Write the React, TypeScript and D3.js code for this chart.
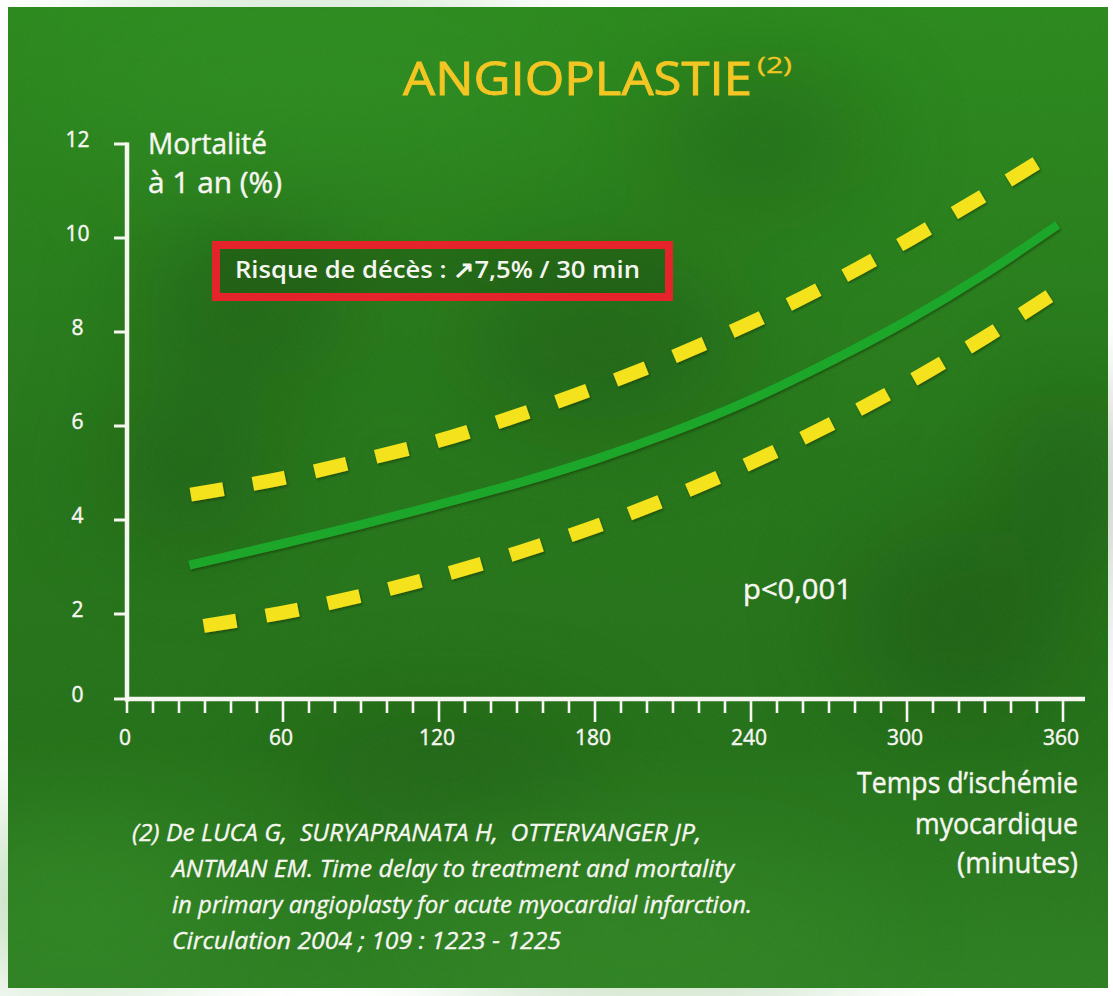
import React from "react";
import * as d3 from "d3";

// ---- data ----
const midMinutes = [24, 60, 90, 120, 150, 180, 210, 240, 270, 300, 330, 358];
const midValues = [3.04, 3.5, 3.9, 4.33, 4.78, 5.29, 5.88, 6.56, 7.36, 8.24, 9.24, 10.28];

const upperMinutes = [24.5, 60, 90, 120, 150, 180, 210, 240, 270, 300, 330, 350];
const upperValues = [4.54, 4.89, 5.27, 5.69, 6.22, 6.81, 7.47, 8.2, 9.02, 9.94, 10.92, 11.6];

const lowerMinutes = [29.5, 60, 90, 120, 150, 180, 210, 240, 270, 300, 330, 355.5];
const lowerValues = [1.72, 2.03, 2.39, 2.81, 3.3, 3.86, 4.5, 5.22, 6.02, 6.91, 7.89, 8.79];

const yTicks = [0, 2, 4, 6, 8, 10, 12];
const xMajorTicks = [0, 60, 120, 180, 240, 300, 360];
const xMinorTicks = d3.range(10, 360, 10).filter((v) => v % 60 !== 0);

const titleText = "ANGIOPLASTIE";
const titleRef = "(2)";
const yTitle = ["Mortalité", "à 1 an (%)"];
const boxText = "Risque de décès : ↗7,5% / 30 min";
const pText = "p<0,001";
const xTitle = ["Temps d’ischémie", "myocardique", "(minutes)"];
const citation = [
  "(2) De LUCA G,  SURYAPRANATA H,  OTTERVANGER JP,",
  "ANTMAN EM. Time delay to treatment and mortality",
  "in primary angioplasty for acute myocardial infarction.",
  "Circulation 2004 ; 109 : 1223 - 1225",
];

const W = 1113;
const H = 996;
const FONT = "'Open Sans', 'Noto Sans', sans-serif";

export default function App() {
  const x = d3.scaleLinear().domain([0, 360]).range([127, 1063]);
  const y = d3.scaleLinear().domain([0, 2, 12]).range([699, 614, 144]);

  const line = d3
    .line<[number, number]>()
    .x((d) => x(d[0]))
    .y((d) => y(d[1]))
    .curve(d3.curveNatural);

  const midPath = line(midMinutes.map((m, i) => [m, midValues[i]]) as [number, number][]) || "";
  const upPath = line(upperMinutes.map((m, i) => [m, upperValues[i]]) as [number, number][]) || "";
  const lowPath = line(lowerMinutes.map((m, i) => [m, lowerValues[i]]) as [number, number][]) || "";

  const white = "#f6f6f0";
  const gold = "#f3c624";
  const axisY = y(0);
  const axisX = x(0);
  const txt = { fill: white, stroke: white, strokeWidth: 0.45 } as const;

  return (
    <svg
      width={W}
      height={H}
      style={{ position: "absolute", left: 0, top: 0, display: "block" }}
    >
      <defs>
        <linearGradient id="bg" x1="0" y1="0" x2="0" y2="1">
          <stop offset="0" stopColor="#2d8a1f" />
          <stop offset="0.45" stopColor="#28771c" />
          <stop offset="0.75" stopColor="#26721b" />
          <stop offset="1" stopColor="#2f8024" />
        </linearGradient>
        <filter id="blur" x="-50%" y="-50%" width="200%" height="200%">
          <feGaussianBlur stdDeviation="55" />
        </filter>
        <filter id="noise" x="0" y="0" width="100%" height="100%">
          <feTurbulence type="fractalNoise" baseFrequency="0.9" numOctaves="2" seed="3" />
          <feColorMatrix
            type="matrix"
            values="0 0 0 0 1  0 0 0 0 1  0 0 0 0 1  0 0 0 0.9 -0.45"
          />
        </filter>
        <filter id="shadow" x="-20%" y="-20%" width="140%" height="140%">
          <feDropShadow dx="1" dy="1.5" stdDeviation="1.2" floodColor="#0b2a06" floodOpacity="0.55" />
        </filter>
      </defs>

      <rect x={0} y={0} width={W} height={H} fill="#ffffff" />
      <g>
        <rect x={8} y={7} width={1100} height={981} fill="url(#bg)" />
        <g filter="url(#blur)" opacity={0.35}>
          <ellipse cx={250} cy={300} rx={110} ry={80} fill="#163f0c" />
          <ellipse cx={190} cy={470} rx={80} ry={70} fill="#163f0c" />
          <ellipse cx={600} cy={340} rx={140} ry={80} fill="#183f0d" />
          <ellipse cx={760} cy={140} rx={110} ry={60} fill="#183f0d" />
          <ellipse cx={960} cy={620} rx={110} ry={90} fill="#163f0c" />
          <ellipse cx={1070} cy={480} rx={60} ry={90} fill="#163f0c" />
          <ellipse cx={440} cy={770} rx={160} ry={50} fill="#1a4a10" />
          <ellipse cx={80} cy={900} rx={140} ry={80} fill="#3d9a2a" />
          <ellipse cx={650} cy={930} rx={220} ry={70} fill="#3a922a" />
          <ellipse cx={300} cy={80} rx={240} ry={70} fill="#34952a" />
        </g>
        <rect x={8} y={7} width={1100} height={981} filter="url(#noise)" opacity={0.1} />
      </g>

      {/* title */}
      <text
        x={403}
        y={95}
        fontFamily={FONT}
        fontSize={46}
        fontWeight={400}
        fill={gold}
        stroke={gold}
        strokeWidth={0.9}
        textLength={349}
        lengthAdjust="spacingAndGlyphs"
      >
        {titleText}
      </text>
      <text
        x={757}
        y={73}
        fontFamily={FONT}
        fontSize={21}
        fill={gold}
        stroke={gold}
        strokeWidth={0.3}
        textLength={35}
        lengthAdjust="spacingAndGlyphs"
      >
        {titleRef}
      </text>

      {/* y-axis title */}
      <text x={148} y={154} fontFamily={FONT} fontSize={29} {...txt} textLength={119} lengthAdjust="spacingAndGlyphs">
        {yTitle[0]}
      </text>
      <text x={148} y={193} fontFamily={FONT} fontSize={29} {...txt} textLength={134} lengthAdjust="spacingAndGlyphs">
        {yTitle[1]}
      </text>

      {/* axes */}
      <g stroke={white} fill="none" strokeLinecap="butt">
        <line x1={axisX} x2={axisX} y1={y(12) - 1.5} y2={axisY + 2.5} strokeWidth={4.5} />
        <line x1={axisX - 2} x2={1085} y1={axisY} y2={axisY} strokeWidth={4.5} />
        {yTicks.map((t) => (
          <line key={"yt" + t} x1={axisX - 13} x2={axisX} y1={y(t)} y2={y(t)} strokeWidth={3} />
        ))}
        {xMajorTicks.map((t) => (
          <line
            key={"xM" + t}
            x1={x(t)}
            x2={x(t)}
            y1={axisY}
            y2={axisY + (t === 0 ? 14 : 23)}
            strokeWidth={2.6}
          />
        ))}
        {xMinorTicks.map((t) => (
          <line key={"xm" + t} x1={x(t)} x2={x(t)} y1={axisY} y2={axisY + 14} strokeWidth={2.6} />
        ))}
      </g>
      {yTicks.map((t) => (
        <text
          key={"yl" + t}
          x={77.5}
          y={y(t) + 3}
          textAnchor="middle"
          fontFamily={FONT}
          fontSize={21}
          {...txt}
        >
          {t}
        </text>
      ))}
      {xMajorTicks.map((t) => (
        <text
          key={"xl" + t}
          x={x(t) - 2}
          y={745}
          textAnchor="middle"
          fontFamily={FONT}
          fontSize={21}
          {...txt}
        >
          {t}
        </text>
      ))}

      {/* red box */}
      <rect x={216} y={245} width={453} height={52} fill="#1d4a12" fillOpacity={0.35} stroke="#e5232b" strokeWidth={8} />
      <text
        x={235}
        y={278}
        fontFamily={FONT}
        fontSize={24}
        fontWeight={600}
        fill={white}
        textLength={405}
        lengthAdjust="spacingAndGlyphs"
      >
        {boxText}
      </text>

      {/* curves */}
      <g fill="none" filter="url(#shadow)">
        <path d={upPath} stroke="#f4e31f" strokeWidth={14} strokeDasharray="33 30" strokeLinecap="butt" />
        <path d={lowPath} stroke="#f4e31f" strokeWidth={14} strokeDasharray="33 30" strokeLinecap="butt" />
        <path d={midPath} stroke="#1fa62b" strokeWidth={9} strokeLinecap="butt" />
      </g>

      {/* p value */}
      <text x={743} y={599} fontFamily={FONT} fontSize={27} {...txt} textLength={109} lengthAdjust="spacingAndGlyphs">
        {pText}
      </text>

      {/* x-axis title */}
      <text x={857} y={793} fontFamily={FONT} fontSize={30} {...txt} textLength={221} lengthAdjust="spacingAndGlyphs">
        {xTitle[0]}
      </text>
      <text x={915} y={834} fontFamily={FONT} fontSize={30} {...txt} textLength={163} lengthAdjust="spacingAndGlyphs">
        {xTitle[1]}
      </text>
      <text x={957} y={873} fontFamily={FONT} fontSize={30} {...txt} textLength={121} lengthAdjust="spacingAndGlyphs">
        {xTitle[2]}
      </text>

      {/* citation */}
      {citation.map((c, i) => {
        const xs = [132, 172, 172, 172][i];
        const lens = [569, 562, 580, 389][i];
        return (
          <text
            key={"c" + i}
            x={xs}
            y={841 + i * 36}
            fontFamily={FONT}
            fontStyle="italic"
            fontSize={24}
            {...txt}
            strokeWidth={0.35}
            textLength={lens}
            lengthAdjust="spacingAndGlyphs"
            style={{ whiteSpace: "pre" }}
          >
            {c}
          </text>
        );
      })}
    </svg>
  );
}
